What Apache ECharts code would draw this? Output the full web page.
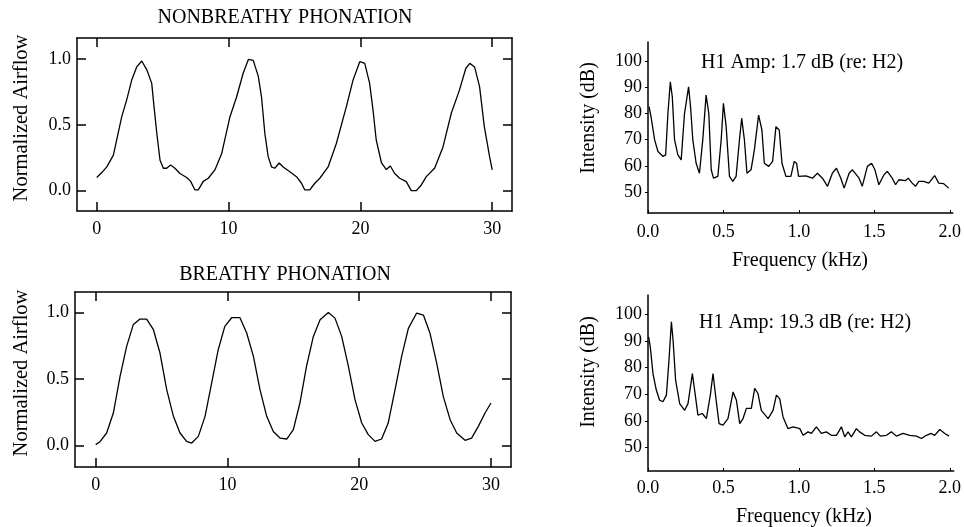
<!DOCTYPE html>
<html>
<head>
<meta charset="utf-8">
<script src="https://cdn.jsdelivr.net/npm/echarts@6/dist/echarts.min.js"></script>
<style>html,body{margin:0;padding:0;background:#fff}#c{width:964px;height:527px}</style>
</head>
<body>
<div id="c"></div>
<script>
// ---- data ----
var nonbreathyT = [0,0.38,0.76,1.26,1.89,2.27,2.65,3.03,3.41,3.79,4.17,4.34,4.55,4.8,5.05,5.3,5.6,5.93,6.31,6.82,7.12,7.45,7.7,8.08,8.46,8.96,9.47,10.1,10.6,11.1,11.5,11.87,12.25,12.5,12.75,13.0,13.26,13.5,13.84,14.14,14.65,15.15,15.53,15.78,16.16,16.54,16.92,17.55,18.18,18.94,19.44,19.95,20.33,20.7,20.96,21.2,21.6,21.97,22.27,22.6,22.98,23.48,23.86,24.24,24.62,25.0,25.63,26.26,26.9,27.5,28.0,28.3,28.66,29.04,29.4,29.8,30.0];
var nonbreathyV = [0.099,0.137,0.18,0.27,0.56,0.69,0.84,0.94,0.985,0.92,0.815,0.64,0.44,0.23,0.17,0.17,0.195,0.17,0.13,0.10,0.07,0.005,0.005,0.07,0.094,0.157,0.28,0.56,0.71,0.89,0.997,0.99,0.87,0.71,0.435,0.26,0.18,0.17,0.21,0.18,0.144,0.106,0.056,0.005,0.005,0.056,0.094,0.18,0.36,0.64,0.84,0.98,0.967,0.815,0.61,0.385,0.21,0.16,0.187,0.13,0.094,0.068,0.0,0.0,0.043,0.106,0.17,0.33,0.59,0.76,0.93,0.967,0.94,0.79,0.486,0.258,0.157];

var breathyT = [0,0.33,0.83,1.34,1.85,2.35,2.86,3.36,3.87,4.38,4.88,5.39,5.9,6.4,6.9,7.29,7.79,8.3,8.8,9.3,9.8,10.32,10.95,11.46,11.97,12.47,12.98,13.48,13.99,14.5,15.0,15.5,16.0,16.52,17.03,17.66,18.16,18.67,19.18,19.68,20.19,20.69,21.2,21.7,22.2,22.72,23.22,23.73,24.36,24.87,25.37,25.88,26.38,26.9,27.4,28.03,28.53,29.04,29.55,30.0];
var breathyV = [0.008,0.03,0.095,0.245,0.52,0.745,0.91,0.95,0.95,0.87,0.695,0.42,0.22,0.095,0.032,0.02,0.07,0.22,0.47,0.72,0.895,0.96,0.96,0.845,0.67,0.42,0.22,0.107,0.057,0.05,0.12,0.32,0.595,0.82,0.945,1.0,0.957,0.82,0.595,0.345,0.17,0.083,0.032,0.05,0.17,0.42,0.67,0.88,0.995,0.98,0.845,0.62,0.37,0.195,0.095,0.04,0.057,0.145,0.245,0.32];

var spec1F = [0.007,0.02,0.044,0.066,0.1,0.117,0.132,0.148,0.161,0.176,0.198,0.22,0.242,0.269,0.282,0.297,0.319,0.341,0.363,0.385,0.403,0.419,0.434,0.463,0.485,0.5,0.518,0.54,0.562,0.584,0.606,0.621,0.639,0.656,0.683,0.705,0.733,0.755,0.771,0.8,0.826,0.848,0.87,0.888,0.914,0.947,0.969,0.985,0.998,1.046,1.09,1.123,1.156,1.19,1.222,1.249,1.278,1.3,1.333,1.355,1.399,1.42,1.454,1.482,1.504,1.53,1.564,1.586,1.619,1.641,1.663,1.707,1.725,1.751,1.773,1.795,1.828,1.861,1.9,1.927,1.96,1.993];
var spec1dB = [82.6,78.8,69.9,65.5,63.6,64.2,80,92.1,86.4,69.9,64.2,62.3,80,90.2,82.6,69.9,61,57.2,69.9,87,80,58.5,55.3,56,69.9,83.9,75,56,54.1,56,69.9,78.2,69.9,57.2,58.5,66.1,79.4,73.7,61,59.8,61.7,75,73.7,61,56,56,61.7,61,56,56.2,55.3,57.2,55.3,52.2,57.2,59.1,55.3,51.5,57.2,58.5,55.3,52.2,59.8,61,58.5,52.8,56.6,57.9,55.3,52.8,54.7,54.4,55.3,53.4,52.2,54.1,54.1,53.4,56.3,53.4,53.2,51.5];

var spec2F = [0.004,0.015,0.033,0.055,0.077,0.099,0.122,0.139,0.155,0.166,0.183,0.21,0.243,0.265,0.294,0.309,0.331,0.36,0.387,0.413,0.431,0.449,0.471,0.497,0.53,0.564,0.586,0.608,0.63,0.652,0.685,0.707,0.729,0.751,0.796,0.829,0.851,0.873,0.895,0.928,0.961,1.006,1.028,1.061,1.083,1.116,1.149,1.182,1.215,1.249,1.282,1.304,1.326,1.348,1.381,1.403,1.436,1.481,1.514,1.54,1.58,1.613,1.646,1.69,1.735,1.779,1.812,1.845,1.878,1.9,1.934,1.967,1.996];
var spec2dB = [91.6,87.8,77.8,71.6,67.8,67.2,69.7,82.8,97.2,90.4,75.3,66.5,64,66.5,77.8,71.6,62.2,62.8,60.9,69.7,77.8,69,59,58.4,60.9,70.9,67.8,59,60.9,64.7,64.7,72.2,70.3,64,60.9,64,69.7,68.4,61.5,57.1,57.8,57.1,54.6,55.9,55.3,57.8,55.3,55.9,54.6,54.6,57.8,54,55.9,54,57.1,55.9,54.6,54.3,55.9,54.3,54.6,55.9,54.3,55.3,54.6,54.3,53.4,54.6,55.3,54.6,56.8,55.3,54.3];

var timeTicks = [0, 10, 20, 30];
var airflowTicks = [0, 0.5, 1.0];
var freqTicks = [0, 0.5, 1.0, 1.5, 2.0];
var dbTicks = [50, 60, 70, 80, 90, 100];

var titleTop = 'NONBREATHY PHONATION';
var titleBottom = 'BREATHY PHONATION';
var airflowLabel = 'Normalized Airflow';
var intensityLabel = 'Intensity (dB)';
var freqLabel = 'Frequency (kHz)';
var noteTop = 'H1 Amp: 1.7 dB (re: H2)';
var noteBottom = 'H1 Amp: 19.3 dB (re: H2)';

function zip(a, b) { return a.map(function (v, i) { return [v, b[i]]; }); }

var FONT = 'Liberation Serif';
var FS = 18;
var FS_BIG = 20;
var INK = '#000';

function boxAxes(gi, xr, yr) {
  var lineStyle = { color: INK, width: 1.5 };
  var tickIn = { show: true, inside: true, length: 9, lineStyle: { color: INK, width: 1.5 } };
  return {
    x: [
      { type: 'value', gridIndex: gi, min: xr[0], max: xr[1], position: 'bottom',
        axisLine: { show: true, onZero: false, lineStyle: lineStyle },
        axisTick: Object.assign({ customValues: timeTicks }, tickIn),
        axisLabel: { customValues: timeTicks, margin: 9, color: INK, fontFamily: FONT, fontSize: FS,
          formatter: function (v) { return String(Math.round(v)); } },
        splitLine: { show: false } },
      { type: 'value', gridIndex: gi, min: xr[0], max: xr[1], position: 'top',
        axisLine: { show: true, onZero: false, lineStyle: lineStyle },
        axisTick: Object.assign({ customValues: timeTicks }, tickIn),
        axisLabel: { show: false }, splitLine: { show: false } }
    ],
    y: [
      { type: 'value', gridIndex: gi, min: yr[0], max: yr[1], position: 'left',
        axisLine: { show: true, onZero: false, lineStyle: lineStyle },
        axisTick: Object.assign({ customValues: airflowTicks }, tickIn),
        axisLabel: { customValues: airflowTicks, margin: 6, color: INK, fontFamily: FONT, fontSize: FS,
          formatter: function (v) { return v.toFixed(1); } },
        splitLine: { show: false } },
      { type: 'value', gridIndex: gi, min: yr[0], max: yr[1], position: 'right',
        axisLine: { show: true, onZero: false, lineStyle: lineStyle },
        axisTick: Object.assign({ customValues: airflowTicks }, tickIn),
        axisLabel: { show: false }, splitLine: { show: false } }
    ]
  };
}

function specAxes(gi, xr, yr, xm) {
  var lineStyle = { color: INK, width: 1.5 };
  return {
    x: [{ type: 'value', gridIndex: gi, min: xr[0], max: xr[1], position: 'bottom',
      axisLine: { show: true, onZero: false, lineStyle: lineStyle },
      axisTick: { show: true, inside: true, length: 3, customValues: freqTicks, lineStyle: { color: INK } },
      axisLabel: { customValues: freqTicks, margin: xm, color: INK, fontFamily: FONT, fontSize: FS,
        formatter: function (v) { return v.toFixed(1); } },
      splitLine: { show: false } }],
    y: [{ type: 'value', gridIndex: gi, min: yr[0], max: yr[1], position: 'left',
      axisLine: { show: true, onZero: false, lineStyle: lineStyle },
      axisTick: { show: true, inside: false, length: 3, customValues: dbTicks, lineStyle: { color: INK } },
      axisLabel: { customValues: dbTicks, margin: 6, color: INK, fontFamily: FONT, fontSize: FS,
        formatter: function (v) { return String(Math.round(v)); } },
      splitLine: { show: false } }]
  };
}

var a0 = boxAxes(0, [-1.5, 31.5], [-0.155, 1.16]);
var a1 = boxAxes(1, [-1.57, 31.52], [-0.16, 1.153]);
var a2 = specAxes(2, [0, 2.02], [42.0, 107.3], 10);
var a3 = specAxes(3, [0, 2.026], [41.2, 107.3], 8);

var xAxes = a0.x.concat(a1.x, a2.x, a3.x);
var yAxes = a0.y.concat(a1.y, a2.y, a3.y);

function lineSeries(xi, yi, data) {
  return { type: 'line', xAxisIndex: xi, yAxisIndex: yi, data: data, showSymbol: false,
    symbol: 'none', smooth: false, lineStyle: { color: INK, width: 1.3 }, animation: false, silent: true };
}

function txt(x, y, s, opts) {
  opts = opts || {};
  return { type: 'text', x: x, y: y, rotation: opts.rot || 0, silent: true,
    style: { text: s, fill: INK, font: (opts.size || FS_BIG) + 'px "' + FONT + '"',
      align: opts.align || 'center', verticalAlign: 'middle' } };
}

var chart = echarts.init(document.getElementById('c'), null, { renderer: 'canvas' });
chart.setOption({
  backgroundColor: '#fff',
  animation: false,
  grid: [
    { left: 77, top: 38, width: 435, height: 173 },
    { left: 75, top: 292, width: 436, height: 175 },
    { left: 648, top: 42, width: 306, height: 171 },
    { left: 648, top: 295, width: 306, height: 176 }
  ],
  xAxis: xAxes,
  yAxis: yAxes,
  series: [
    lineSeries(0, 0, zip(nonbreathyT, nonbreathyV)),
    lineSeries(2, 2, zip(breathyT, breathyV)),
    lineSeries(4, 4, zip(spec1F, spec1dB)),
    lineSeries(5, 5, zip(spec2F, spec2dB))
  ],
  graphic: [
    txt(285, 18, titleTop),
    txt(285, 275, titleBottom),
    txt(22, 118, airflowLabel, { rot: Math.PI / 2, size: 20.5 }),
    txt(22, 373, airflowLabel, { rot: Math.PI / 2, size: 20.5 }),
    txt(589, 118, intensityLabel, { rot: Math.PI / 2 }),
    txt(589, 372, intensityLabel, { rot: Math.PI / 2 }),
    txt(800, 261, freqLabel),
    txt(804, 517, freqLabel),
    txt(701, 63, noteTop, { align: 'left' }),
    txt(699, 323, noteBottom, { align: 'left' })
  ]
});
</script>
</body>
</html>
